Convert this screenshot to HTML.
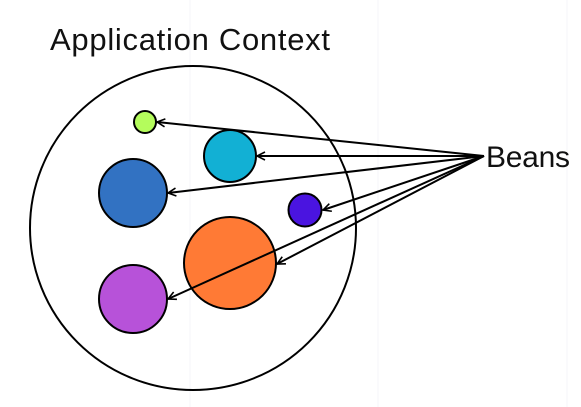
<!DOCTYPE html>
<html><head><style>
html,body{margin:0;padding:0;background:#fff;width:581px;height:407px;overflow:hidden}
</style></head><body>
<svg width="581" height="407" xmlns="http://www.w3.org/2000/svg">
<line x1="190" y1="0" x2="190" y2="407" stroke="#f4f4f8" stroke-width="1"/>
<line x1="378" y1="0" x2="378" y2="407" stroke="#f4f4f8" stroke-width="1"/>
<line x1="567" y1="0" x2="567" y2="407" stroke="#f4f4f8" stroke-width="1"/>
<defs><marker id="a" markerWidth="10" markerHeight="10" refX="9" refY="5" orient="auto" markerUnits="userSpaceOnUse"><path d="M1,1 L9,5 L1,9" fill="none" stroke="#000" stroke-width="1.6"/></marker></defs>
<text x="50" y="50" font-family="Liberation Sans, sans-serif" font-size="31" textLength="280" fill="#111">Application Context</text>
<ellipse cx="193" cy="228" rx="163" ry="162" fill="none" stroke="#000" stroke-width="2"/>
<circle cx="145" cy="122" r="11" fill="#b4fc5c" stroke="#000" stroke-width="2"/>
<circle cx="230" cy="156" r="26" fill="#12b0d4" stroke="#000" stroke-width="2"/>
<circle cx="133" cy="193" r="34" fill="#3272c2" stroke="#000" stroke-width="2"/>
<circle cx="305" cy="210" r="16.5" fill="#4a14e0" stroke="#000" stroke-width="2"/>
<circle cx="230" cy="263" r="46" fill="#ff7a35" stroke="#000" stroke-width="2"/>
<circle cx="133" cy="299" r="34" fill="#b752d9" stroke="#000" stroke-width="2"/>
<g stroke="#000" stroke-width="2" marker-end="url(#a)">
<line x1="484" y1="156" x2="157" y2="122"/>
<line x1="484" y1="156" x2="257" y2="156"/>
<line x1="484" y1="156" x2="168" y2="193"/>
<line x1="484" y1="156" x2="323" y2="210"/>
<line x1="484" y1="156" x2="277" y2="264"/>
<line x1="484" y1="156" x2="168" y2="299"/>
</g>
<text x="486" y="167" font-family="Liberation Sans, sans-serif" font-size="30" textLength="84" fill="#111">Beans</text>
</svg>
</body></html>
